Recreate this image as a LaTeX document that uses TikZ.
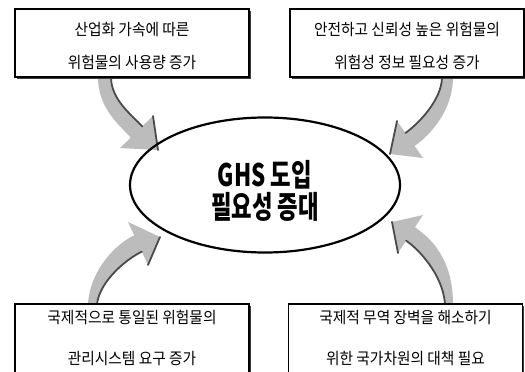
\documentclass[tikz,border=0pt]{standalone}
\usepackage{fontspec}
\usetikzlibrary{shapes.geometric,shadows}
\newfontfamily\kr[FakeStretch=0.92]{Noto Sans CJK KR}
\newfontfamily\krh[FakeStretch=0.72]{Noto Sans CJK KR}
\definecolor{arrowgray}{RGB}{188,188,188}
\definecolor{edgegray}{RGB}{75,75,75}
\begin{document}
\begin{tikzpicture}[x=1pt,y=-1pt,
  box/.style={draw=black, line width=1.6pt, fill=white, rectangle, inner sep=0pt,
    minimum width=234pt, minimum height=68pt,
    drop shadow={shadow xshift=1.6pt, shadow yshift=-1.6pt, fill=black!75, opacity=1}},
  bigbox/.style={box, minimum height=100pt},
  toptext/.style={font=\kr\fontsize{16}{33}\selectfont, align=center, inner sep=0pt},
  bottext/.style={font=\kr\fontsize{16}{41}\selectfont, align=center, inner sep=0pt},
  centertext/.style={font=\krh\bfseries\fontsize{31}{32}\selectfont, align=center, inner sep=0pt},
  arrowbody/.style={fill=arrowgray},
  arrowedge/.style={draw=edgegray, line width=1.8pt, line cap=round}]
\useasboundingbox (0,0) rectangle (525,372);
\clip (0,0) rectangle (525,372);

% curved arrows (drawn first, boxes cover their tails)
% top-left
\fill[arrowbody] (98,70) -- (98,77) .. controls (98,107) and (117,123) .. (130.8,137.6)
  -- (120,148) -- (158,150) -- (153,116) -- (142.2,126.4)
  .. controls (132,115) and (111,100) .. (111,77) -- (111,70) -- cycle;
\draw[arrowedge] (111,77) .. controls (111,100) and (132,115) .. (142.2,126.4);
\draw[arrowedge] (153,116) -- (158,150);
% top-right
\fill[arrowbody] (442,70) -- (442,77) .. controls (442,100) and (417.7,124.4) .. (405.4,133)
  -- (397,121) -- (390,154) -- (423,158) -- (414.6,146)
  .. controls (431,134.5) and (453,110) .. (453,77) -- (453,70) -- cycle;
\draw[arrowedge] (442,77) .. controls (442,100) and (417.7,124.4) .. (405.4,133);
\draw[arrowedge] (397,121) -- (390,154);
% bottom-left
\fill[arrowbody] (88,310) -- (88,304) .. controls (90,270) and (116,243.7) .. (134.2,235.3)
  -- (128,222) -- (160,237) -- (148,265) -- (141.8,251.7)
  .. controls (128.2,258) and (100,280) .. (97,304) -- (97,310) -- cycle;
\draw[arrowedge] (97,304) .. controls (100,280) and (128.2,258) .. (141.8,251.7);
\draw[arrowedge] (160,237) -- (148,265);
% bottom-right
\fill[arrowbody] (445,310) -- (445,304) .. controls (443,275) and (418.6,249) .. (406.1,240.7)
  -- (398,253) -- (392,222) -- (423,215) -- (414.9,227.3)
  .. controls (431.6,238.3) and (453,260) .. (453,304) -- (453,310) -- cycle;
\draw[arrowedge] (445,304) .. controls (443,275) and (418.6,249) .. (406.1,240.7);
\draw[arrowedge] (398,253) -- (392,222);

% boxes
\node[box] (b1) at (132,43) {};
\node[box] (b2) at (407,43) {};
\node[bigbox] (b3) at (132,354) {};
\node[bigbox] (b4) at (405.5,354) {};

\node[toptext] (t1) at (132,46) {산업화 가속에 따른\\위험물의 사용량 증가};
\node[toptext] (t2) at (407,46) {안전하고 신뢰성 높은 위험물의\\위험성 정보 필요성 증가};
\node[bottext] (t3) at (132,338) {국제적으로 통일된 위험물의\\관리시스템 요구 증가};
\node[bottext] (t4) at (405.5,338) {국제적 무역 장벽을 해소하기\\위한 국가차원의 대책 필요};

% central ellipse
\node[ellipse, draw=black, line width=2.2pt, minimum width=270pt, minimum height=135pt, inner sep=0pt] (c) at (265,185) {};
\node[centertext] (ct) at (265,191) {GHS 도입\\필요성 증대};
\end{tikzpicture}
\end{document}
